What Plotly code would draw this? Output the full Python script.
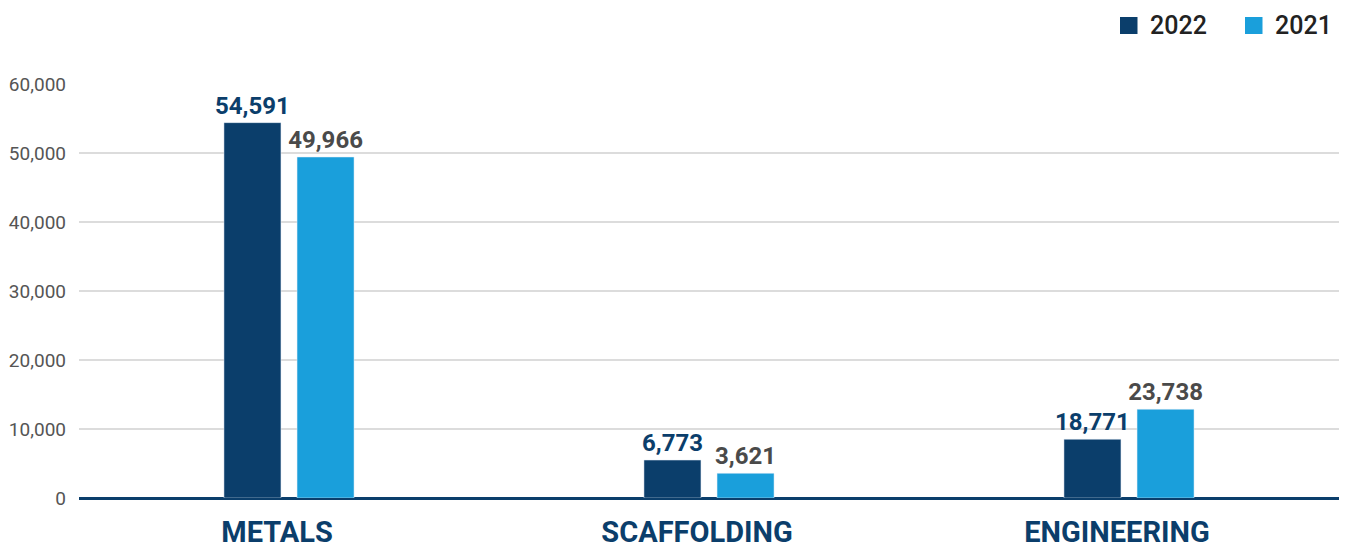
import plotly.graph_objects as go

categories = ["METALS", "SCAFFOLDING", "ENGINEERING"]
series_names = ["2022", "2021"]
values_2022 = [54400, 5500, 8510]
values_2021 = [49420, 3580, 12860]
labels_2022 = ["54,591", "6,773", "18,771"]
labels_2021 = ["49,966", "3,621", "23,738"]
y_ticks = [0, 10000, 20000, 30000, 40000, 50000, 60000]

DARK = "#0b3e6b"
LIGHT = "#1a9fdb"
FONT = "Roboto"

W, H = 1347, 546
ML, MR, MT, MB = 79, 8, 84, 48
PW, PH = W - ML - MR, H - MT - MB

fig = go.Figure()
fig.add_trace(go.Bar(
    x=categories, y=values_2022, name=series_names[0], marker_color=DARK,
    text=labels_2022, textposition="outside", cliponaxis=False, constraintext="none",
    textfont=dict(family=FONT, size=24, color=DARK, weight="bold"),
    showlegend=False,
))
fig.add_trace(go.Bar(
    x=categories, y=values_2021, name=series_names[1], marker_color=LIGHT,
    text=labels_2021, textposition="outside", cliponaxis=False, constraintext="none",
    textfont=dict(family=FONT, size=24, color="#4a4a4a", weight="bold"),
    showlegend=False,
))

def px_x(p):
    return (p - ML) / PW

def px_y(p):
    return (H - MB - p) / PH

# custom legend (square swatches + labels), positions in page pixels
legend_items = [(series_names[0], DARK, 1120), (series_names[1], LIGHT, 1245)]
for name, color, left in legend_items:
    fig.add_shape(type="rect", xref="paper", yref="paper",
                  x0=px_x(left), x1=px_x(left + 17.5), y0=px_y(34), y1=px_y(17),
                  fillcolor=color, line_width=0)
    fig.add_annotation(xref="paper", yref="paper", x=px_x(left + 28), y=px_y(25.5),
                       text=name, showarrow=False, xanchor="left", yanchor="middle",
                       font=dict(family=FONT, size=25, color="#222222", weight=500))

fig.update_layout(
    width=W, height=H,
    margin=dict(l=ML, r=MR, t=MT, b=MB, pad=0, autoexpand=False),
    paper_bgcolor="white", plot_bgcolor="white",
    barmode="group", bargap=0.652, bargroupgap=0.22,
    font=dict(family=FONT),
)
fig.update_xaxes(
    tickfont=dict(family=FONT, size=29, color=DARK, weight="bold"),
    showgrid=False, showline=False, ticks="", ticklabelstandoff=14,
    ticklabelshift=-12, automargin=False,
)
fig.update_yaxes(
    range=[0, 60000], tickvals=y_ticks, tickformat=",",
    tickfont=dict(family=FONT, size=19, color="#555555"),
    showgrid=True, gridcolor="#dcdcdc", gridwidth=2,
    zeroline=True, zerolinecolor=DARK, zerolinewidth=2.5,
    showline=False, ticks="", ticklabelstandoff=12, automargin=False,
)

fig.write_html("out.html", config={"displayModeBar": False},
               post_script="document.body.style.margin='0';")
